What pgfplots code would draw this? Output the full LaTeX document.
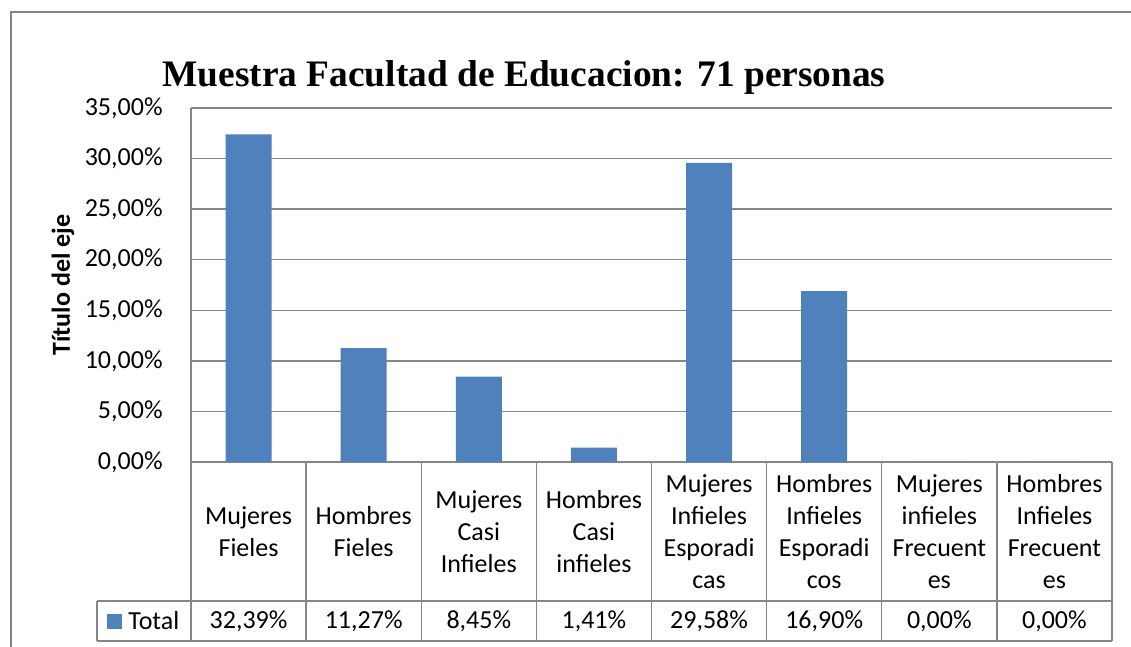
\documentclass[border=0pt]{standalone}
\usepackage{fontspec}
\setmainfont{Carlito}
\newfontfamily\titlefont{Liberation Serif}
\usepackage{pgfplots}
\pgfplotsset{compat=1.18}

\definecolor{barblue}{HTML}{4F81BD}
\definecolor{linegray}{HTML}{868686}

% 1 px of the reference = 0.5pt
\newcommand{\chartfont}{\fontsize{13}{16}\selectfont}

\begin{document}
\begin{tikzpicture}
\useasboundingbox (0,0) rectangle (565.5pt,-323.5pt);
\fill[white] (0,0) rectangle (565.5pt,-323.5pt);

\begin{axis}[
    at={(95.5pt,-231pt)}, anchor=south west,
    scale only axis,
    width=460.5pt, height=177pt,
    xmin=0.5, xmax=8.5,
    ymin=0, ymax=35,
    ybar, bar width=23pt,
    axis x line=bottom, axis y line=left,
    axis line style={linegray, line width=0.7pt, -},
    major tick length=0pt,
    ymajorgrids,
    grid style={linegray, line width=0.65pt},
    ytick={0,5,...,35},
    yticklabels={{0,00\%},{5,00\%},{10,00\%},{15,00\%},{20,00\%},{25,00\%},{30,00\%},{35,00\%}},
    yticklabel style={anchor=east, inner sep=0pt, xshift=-14pt, font=\chartfont},
    xtick={1,...,8},
    xticklabels={{Mujeres\\Fieles},{Hombres\\Fieles},{Mujeres\\Casi\\Infieles},{Hombres\\Casi\\infieles},{Mujeres\\Infieles\\Esporadi\\cas},{Hombres\\Infieles\\Esporadi\\cos},{Mujeres\\infieles\\Frecuent\\es},{Hombres\\Infieles\\Frecuent\\es}},
    xticklabel style={anchor=center, align=center, inner sep=0pt, yshift=-34.75pt, font=\chartfont},
    extra x ticks={1,...,8},
    extra x tick labels={{32,39\%},{11,27\%},{8,45\%},{1,41\%},{29,58\%},{16,90\%},{0,00\%},{0,00\%}},
    extra x tick style={xmajorgrids=false, xticklabel style={yshift=-44.75pt}},
    every axis y label/.style={at={([xshift=-64pt]axis description cs:0,0.5)}, rotate=90, anchor=center},
    ylabel={\bfseries Título del eje},
    ylabel style={font=\chartfont},
    clip=false,
]
\addplot[fill=barblue, draw=none] coordinates {
    (1,32.39) (2,11.27) (3,8.45) (4,1.41) (5,29.58) (6,16.90) (7,0) (8,0)
};
\end{axis}

\begin{scope}[x=0.5pt, y=-0.5pt]
  % outer chart border
  \draw[linegray, line width=1pt] (11,647) -- (11,12) -- (1131,12);
  % title
  \node[anchor=base, inner sep=0pt, font={\titlefont\bfseries\fontsize{18.7}{21}\selectfont}]
    at (524,87) {Muestra Facultad de Educacion: 71 personas};
  % data table grid
  \foreach \k in {0,...,8} {
    \draw[linegray, line width=0.7pt] ({191+\k*115.125},462) -- ({191+\k*115.125},641);
  }
  \draw[linegray, line width=0.7pt] (97,601) -- (1112,601);
  \draw[linegray, line width=0.7pt] (97,641) -- (1112,641);
  \draw[linegray, line width=0.7pt] (97,601) -- (97,641);
  % legend key
  \fill[barblue] (107,614) rectangle (122,629);
  \node[anchor=west, inner sep=0pt, font=\chartfont] at (128,621) {Total};
\end{scope}
\end{tikzpicture}
\end{document}
